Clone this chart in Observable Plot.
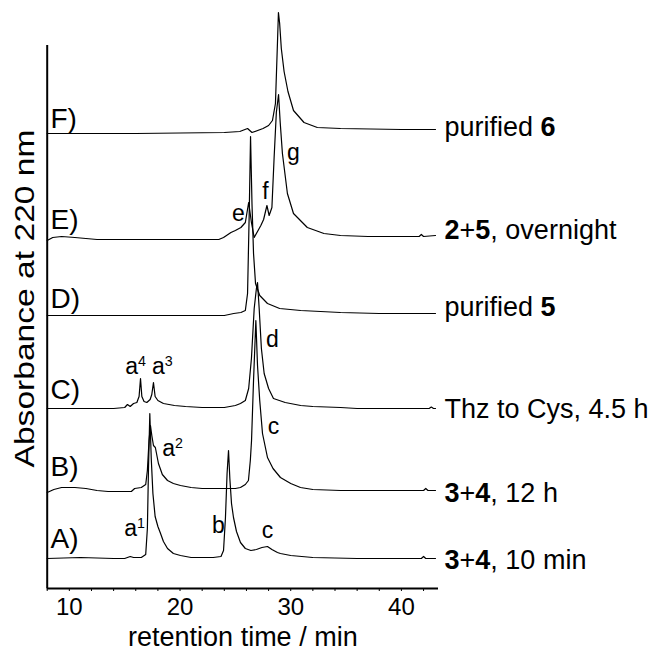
<!DOCTYPE html>
<html>
<head>
<meta charset="utf-8">
<script src="https://cdn.jsdelivr.net/npm/d3@7"></script>
<script src="https://cdn.jsdelivr.net/npm/@observablehq/plot@0.6"></script>
<style>
  html, body { margin: 0; padding: 0; background: #fff; }
  svg { display: block; }
</style>
</head>
<body>
<div id="chart"></div>
<script>
// ---- data (retention time in min, absorbance above each trace's baseline, arbitrary units) ----
const traceA = [[8.0,0],[9.5,0.5],[11,1],[12.5,0.5],[14,0],[15.0,0],[15.5,2],[15.8,1],[16.5,1],[16.9,4],[17.05,30],[17.15,90],[17.27,145],[17.4,100],[17.55,65],[17.75,42],[18.0,32],[18.24,25],[18.5,17],[18.87,10],[19.4,5],[20.04,3],[21,1],[22,1],[23,1],[23.7,2],[23.93,8],[24.1,40],[24.25,85],[24.38,108],[24.5,80],[24.65,55],[24.83,41],[25.1,27],[25.46,16],[25.9,10],[26.4,8],[26.9,9],[27.4,11],[27.9,12],[28.3,9],[28.8,6],[29.07,5],[30,3],[31,2],[32,1],[34,0.5],[36,0],[38,0],[40,0],[41.8,0],[42.0,2],[42.2,0],[43.08,0]];
const traceB = [[8.0,-2],[8.6,1],[9.3,3],[10.5,3],[11.5,2],[12.5,0],[13.5,-1],[15.0,-1],[15.6,-1],[15.9,2],[16.5,3],[16.9,6],[17.05,20],[17.2,50],[17.33,65],[17.45,55],[17.6,45],[17.77,43],[18.05,27],[18.4,16],[18.87,10],[19.4,7],[20.04,5],[21,3],[22,2],[23,2],[24,2],[25.0,2],[25.46,3],[25.9,6],[26.18,10],[26.35,30],[26.46,50],[26.64,110],[26.85,170],[27.0,125],[27.2,90],[27.45,57],[27.9,33],[28.4,22],[29.07,13],[30,7],[30.88,3],[32,1],[34.5,0],[38,0],[40,0],[42.0,0],[42.2,2],[42.4,0],[43.08,0]];
const traceC = [[8,0],[10,0],[12,0],[14,0],[15.0,1],[15.25,4],[15.5,2],[15.8,5],[16.1,6],[16.3,12],[16.43,30],[16.55,12],[16.75,7],[17.0,6],[17.3,9],[17.45,14],[17.6,26],[17.75,12],[18.0,8],[18.5,5],[19.5,3],[20.5,2],[22,1],[24,1],[25.0,3],[25.46,5],[25.9,8],[26.2,20],[26.45,50],[26.7,100],[26.9,120],[27.0,126],[27.15,100],[27.35,60],[27.6,35],[28.0,20],[28.44,10],[29.5,6],[30.9,3],[32,2],[34.5,1],[36,0],[40,0],[42.5,0],[42.7,1.5],[42.9,0],[43.08,0]];
const traceD = [[8,-2],[12,-2],[16,-2],[20,-2],[24,-2],[24.85,0],[25.5,1],[25.9,3],[26.1,20],[26.25,100],[26.37,177],[26.5,110],[26.64,60],[26.82,30],[27.2,18],[27.9,10],[29.0,5],[30.9,3],[34.5,1],[38,0],[43.08,0]];
const traceE = [[8,-3],[8.5,0],[9.3,1],[10.5,0],[11.5,-1],[12.5,-2],[15,-2],[20,-2],[23.5,-2],[23.93,0],[24.6,5],[25.0,7],[25.5,10],[25.9,15],[26.2,35],[26.45,15],[26.7,0],[27.0,6],[27.3,12],[27.55,18],[27.85,32],[28.05,22],[28.3,30],[28.5,80],[28.7,125],[28.9,143],[29.05,115],[29.25,84],[29.7,44],[30.25,24],[31.5,10],[33,4],[34.5,2],[37,1],[40,1],[41.6,1],[41.8,3],[42.0,1],[43.08,2]];
const traceF = [[8,0],[12,0],[16,0],[20,0.5],[24,1],[25.4,2],[26.1,5],[26.5,1],[27.5,5],[28.0,8],[28.35,13],[28.62,30],[28.8,90],[28.89,121],[29.0,110],[29.15,85],[29.4,62],[29.75,42],[30.25,23],[31.2,11],[32.4,6],[34.5,5],[40,4],[43.08,4]];

const traceNames = ["A", "B", "C", "D", "E", "F"];
const traces = [traceA, traceB, traceC, traceD, traceE, traceF];
const baselines = [30, 98, 180, 275, 351, 455];

const traceLetters = ["A)", "B)", "C)", "D)", "E)", "F)"];
const letterAbs = [41, 113, 190, 281, 360, 461];

const sampleLabels = ["**3**+**4**, 10 min", "**3**+**4**, 12 h", "Thz to Cys, 4.5 h", "purified **5**", "**2**+**5**, overnight", "purified **6**"];
const sampleAbs = [20, 87, 171, 273, 350, 453];

const peakText = ["a^1", "b", "c", "a^2", "c", "a^4", "a^3", "d", "e", "f", "g"];
const peakTime = [15.9, 23.47, 27.9, 19.32, 28.44, 15.98, 18.41, 28.35, 25.28, 27.72, 30.25];
const peakAbs  = [53, 56, 51, 133, 155, 215, 215, 242, 368, 390, 429];

const xTicks = [8, 10, 12, 14, 16, 18, 20, 22, 24, 26, 28, 30, 32, 34, 36, 38, 40, 42];
const xTickLabels = [10, 20, 30, 40];

// ---- build table ----
const rows = [];
traces.forEach((tr, k) => tr.forEach(([t, v]) => rows.push({trace: traceNames[k], t, y: baselines[k] + v})));
const endTime = traceA[traceA.length - 1][0];

const FONT = "'Liberation Sans', Arial, Helvetica, sans-serif";

const svg = Plot.plot({
  width: 652,
  height: 651,
  marginTop: 45,
  marginBottom: 63,
  marginLeft: 46.7,
  marginRight: 214,
  style: {fontFamily: FONT, fontSize: "24px", color: "#000", background: "#fff", overflow: "visible"},
  x: {domain: [8, 43.35], ticks: xTicks, tickSize: 3, tickPadding: 6,
      tickFormat: d => xTickLabels.includes(d) ? String(d) : "", label: null},
  y: {domain: [0, 543], axis: null},
  marks: [
    Plot.ruleY([0], {stroke: "#000", strokeWidth: 2}),
    Plot.ruleX([8], {stroke: "#000", strokeWidth: 2}),
    Plot.line(rows, {x: "t", y: "y", z: "trace", stroke: "#000", strokeWidth: 1.2}),
    Plot.text(traceLetters, {x: () => 8.3, y: (d, i) => letterAbs[i], text: d => d, textAnchor: "start", lineAnchor: "bottom", fontSize: 28}),
    Plot.text(sampleLabels, {x: () => endTime, y: (d, i) => sampleAbs[i], text: d => d, dx: 9, textAnchor: "start", lineAnchor: "bottom", fontSize: 27}),
    Plot.text(peakText, {x: (d, i) => peakTime[i], y: (d, i) => peakAbs[i], text: d => d, textAnchor: "middle", lineAnchor: "bottom", fontSize: 23}),
    Plot.text(["retention time / min"], {frameAnchor: "bottom", dy: 57, lineAnchor: "bottom", fontSize: 27}),
    Plot.text(["Absorbance at 220 nm"], {x: () => 6.0, y: () => 290, rotate: -90, textAnchor: "middle", fontSize: 28, className: "ytitle"})
  ]
});

// rich text: **bold** and ^superscript
svg.querySelectorAll("text").forEach(el => {
  const s = el.textContent;
  if (!/\*\*|\^/.test(s)) return;
  el.textContent = "";
  const re = /\*\*(.+?)\*\*|\^(\S+)|([^*^]+)/g;
  let m;
  while ((m = re.exec(s))) {
    const ts = document.createElementNS("http://www.w3.org/2000/svg", "tspan");
    if (m[1] !== undefined) { ts.textContent = m[1]; ts.setAttribute("font-weight", "bold"); }
    else if (m[2] !== undefined) { ts.textContent = m[2]; ts.setAttribute("dy", "-0.55em"); ts.setAttribute("font-size", "62%"); }
    else ts.textContent = m[3];
    el.appendChild(ts);
  }
});
// the y title in the reference is stretched along its length
svg.querySelectorAll(".ytitle text").forEach(el => {
  el.setAttribute("textLength", 338);
  el.setAttribute("lengthAdjust", "spacingAndGlyphs");
});

document.getElementById("chart").appendChild(svg);
</script>
</body>
</html>
